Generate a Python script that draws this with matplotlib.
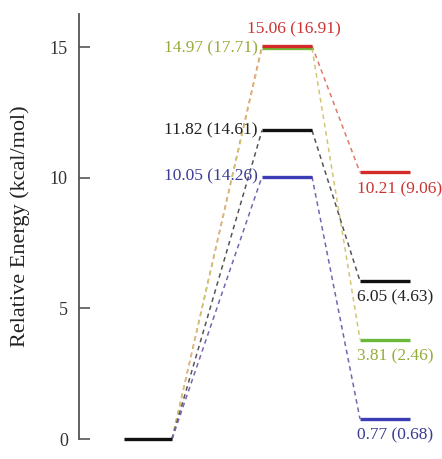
import numpy as np
import matplotlib
matplotlib.use("Agg")
import matplotlib.pyplot as plt

# Energies (kcal/mol): transition state and product, with values in parentheses
series_names = ["red", "green", "black", "blue"]
ts_energy = [15.06, 14.97, 11.82, 10.05]
ts_energy_alt = [16.91, 17.71, 14.61, 14.26]
prod_energy = [10.21, 3.81, 6.05, 0.77]
prod_energy_alt = [9.06, 2.46, 4.63, 0.68]
reactant_energy = 0.0

yticks = [0, 5, 10, 15]

# styles per series
level_colors = {"red": "#d42a2a", "green": "#6cb83a", "black": "#111111", "blue": "#3c3cb4"}
text_colors = {"red": "#cc3333", "green": "#95ad3a", "black": "#222222", "blue": "#3b3b96"}
dash_colors = {"red": "#e07a6a", "green": "#d2c673", "black": "#555555", "blue": "#7466b0"}

# horizontal layout (axis units)
x_react = (124, 172)
x_ts = (262, 312)
x_prod = (360, 410)

plt.rcParams["font.family"] = ["Liberation Serif", "DejaVu Serif"]

fig = plt.figure(figsize=(4.42, 4.59), dpi=100)
ax = fig.add_axes([79 / 442, 20 / 459, 363 / 442, 425 / 459])
ax.set_xlim(79, 442)
ax.set_ylim(0, 16.28)

# reactant level
ax.plot(x_react, [reactant_energy] * 2, color="#111111", lw=2.4,
        solid_capstyle="butt", clip_on=False, zorder=3)

for i, name in enumerate(series_names):
    ts = ts_energy[i]
    pr = prod_energy[i]
    z = 4 if name == "red" else 3
    # connecting dashed lines
    ax.plot([x_react[1], x_ts[0]], [reactant_energy, ts], ls=(0, (3, 2.5)),
            lw=1.1, color=dash_colors[name], clip_on=False, zorder=2)
    ax.plot([x_ts[1], x_prod[0]], [ts, pr], ls=(0, (3, 2.5)),
            lw=1.1, color=dash_colors[name], clip_on=False, zorder=2)
    # levels
    ax.plot(x_ts, [ts, ts], color=level_colors[name], lw=2.4,
            solid_capstyle="butt", clip_on=False, zorder=z)
    ax.plot(x_prod, [pr, pr], color=level_colors[name], lw=2.4,
            solid_capstyle="butt", clip_on=False, zorder=z)

    ts_label = f"{ts:.2f} ({ts_energy_alt[i]:.2f})"
    pr_label = f"{pr:.2f} ({prod_energy_alt[i]:.2f})"
    if name == "red":
        ax.annotate(ts_label, (np.mean(x_ts), ts), xytext=(5, 12),
                    textcoords="offset points", ha="center", va="center",
                    fontsize=12.5, color=text_colors[name], annotation_clip=False)
    else:
        ax.annotate(ts_label, (x_ts[0], ts), xytext=(-3, 0),
                    textcoords="offset points", ha="right", va="center",
                    fontsize=12.5, color=text_colors[name], annotation_clip=False)
    ax.annotate(pr_label, (x_prod[0], pr), xytext=(-2, -12),
                textcoords="offset points", ha="left", va="center",
                fontsize=12.5, color=text_colors[name], annotation_clip=False)

ax.set_yticks(yticks)
ax.set_xticks([])
for side in ["top", "right", "bottom"]:
    ax.spines[side].set_visible(False)
ax.spines["left"].set_color("#555555")
ax.spines["left"].set_linewidth(1.3)
ax.tick_params(axis="y", direction="in", length=8, width=1.2, color="#555555",
               pad=8, labelsize=13, labelcolor="#333333")
ax.set_ylabel("Relative Energy (kcal/mol)", fontsize=16, color="#222222", labelpad=14)

fig.savefig("out.png", dpi=100)
